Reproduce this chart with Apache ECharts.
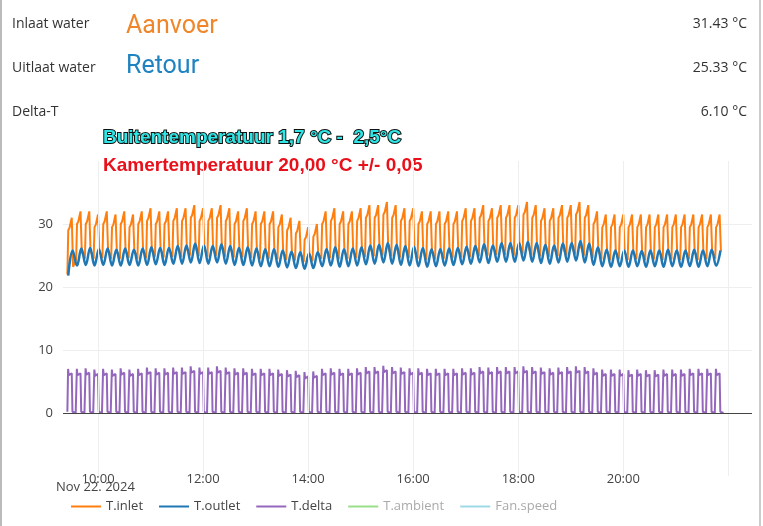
<!DOCTYPE html>
<html><head><meta charset="utf-8">
<script src="https://cdn.jsdelivr.net/npm/echarts@6/dist/echarts.min.js"></script>
<style>html,body{margin:0;padding:0;background:#fff}#c{width:763px;height:526px}</style>
</head><body><div id="c"></div>
<script>
// one value per ~10-minute heating cycle, starting 2024-11-22 09:25 (hours of day)
const cycleStartHour = 9 + 25/60;
const inletPeaks = [31,32,32,31.5,32,31.5,32,31.5,32,32.5,32,32,32.5,32.5,33,32.5,32.5,33,32.5,32,32.5,32,
 32,32,31.5,31,30.5,29.5,30,32,32.5,
 32,32,32.5,33,33,33.5,33,32.5,32.5,32,
 32,32,32,32,32.5,32.5,33,32.5,33,33,
 33,33.5,33,32.5,32.5,33,33,33.5,33,32,
 31.5,31.5,31.5,31.5,31.5,31.5,31.5,31.5,31.5,31.5,31.5,31.5,31.5,31.5];
const inletTroughs = [22,24.3,24.5,24.5,24.6,24.5,24.5,24.6,24.5,24.6,24.8,24.7,24.8,24.8,25,24.9,24.8,25,24.8,24.7,24.7,24.6,
 24.5,24.5,24.4,24.3,24.2,24,24.1,24.5,24.6,
 24.4,24.5,24.6,24.8,24.9,25,24.9,24.7,24.6,24.5,
 24.3,24.4,24.5,24.6,24.7,24.8,24.9,25,25.1,25.1,
 25,25.2,25,24.9,24.8,24.9,25,25.2,25,24.6,
 24.4,24.3,24.4,24.3,24.4,24.3,24.4,24.3,24.4,24.3,24.4,24.3,24.4,24.5];
const outletPeaks = [25.8,26.1,26.2,26,26.1,25.9,26.1,25.9,26.1,26.3,26.2,26.2,26.5,26.6,26.9,26.6,26.5,26.8,26.5,26.2,26.3,26.1,
 26,26,25.8,25.6,25.5,25.3,25.5,26,26.3,
 26,26.1,26.3,26.6,26.7,27,26.7,26.5,26.4,26.2,
 26,26,26.1,26.2,26.4,26.5,26.8,26.6,27,27,
 27,27.2,27,26.7,26.6,26.9,27,27.3,26.9,26.3,
 25.9,25.8,25.8,25.8,25.7,25.8,25.8,25.9,25.8,25.8,25.9,25.8,25.9,25.8];
const outletTroughs = [21.8,23.4,23.5,23.4,23.5,23.4,23.4,23.5,23.4,23.5,23.6,23.5,23.7,23.7,23.9,23.8,23.7,23.9,23.7,23.5,23.5,23.4,
 23.3,23.3,23.2,23.1,23,22.9,23,23.3,23.4,
 23.2,23.3,23.4,23.6,23.7,23.9,23.7,23.5,23.4,23.3,
 23.2,23.3,23.4,23.5,23.6,23.7,23.9,23.8,24,24,
 24,24.2,24,23.8,23.7,23.9,24,24.2,23.9,23.5,
 23.3,23.2,23.3,23.2,23.3,23.2,23.3,23.2,23.3,23.2,23.3,23.2,23.3,23.4];
const deltaPeaks = [6.3,6.3,6.4,6.2,6.3,6.2,6.4,6.2,6.3,6.5,6.4,6.4,6.5,6.5,6.7,6.5,6.5,6.7,6.5,6.4,6.4,6.3,
 6.3,6.3,6.2,6.1,6,5.8,5.9,6.3,6.4,
 6.3,6.3,6.4,6.6,6.6,6.8,6.6,6.5,6.4,6.4,
 6.3,6.3,6.3,6.3,6.4,6.4,6.6,6.5,6.6,6.6,
 6.6,6.7,6.6,6.5,6.4,6.5,6.6,6.7,6.6,6.4,
 6.2,6.2,6.2,6.1,6.2,6.1,6.1,6.2,6.2,6.2,6.3,6.3,6.3,6.3];
const yTicks = [0,10,20,30];
const xTickHours = [10,12,14,16,18,20];
const xGridHours = [10,12,14,16,18,20,22];

const M = 1/60, P = 10*M;
const inlet=[], outlet=[], delta=[];
inletPeaks.forEach((pk,i)=>{
  const s=cycleStartHour+i*P, tr=inletTroughs[i];
  inlet.push([s,tr],[s+1*M,pk-2],[s+2.5*M,pk-1.6],[s+5*M,pk],[s+6.5*M,tr+1.2]);
  outlet.push([s+1*M,outletTroughs[i]],[s+6*M,outletPeaks[i]]);
  delta.push([s,0.2],[s+0.8*M,deltaPeaks[i]+0.7],[s+1.6*M,deltaPeaks[i]-0.3],[s+5*M,deltaPeaks[i]],[s+5.8*M,0.2],[s+9.5*M,0]);
});

const chart = echarts.init(document.getElementById('c'));
const F = "'Open Sans', 'Noto Sans', sans-serif";
const pad = h => String(h).padStart(2,'0')+':00';
chart.setOption({
  animation:false,
  textStyle:{fontFamily:F},
  grid:{left:63,right:11,top:161,bottom:50},
  xAxis:{type:'value',min:9+20/60,max:22+27/60,
    axisLine:{show:false},axisTick:{show:false},
    axisLabel:{color:'#444',fontSize:13,margin:-3,customValues:xTickHours,formatter:v=>pad(Math.round(v))},
    splitLine:{show:false}},
  yAxis:{type:'value',min:-10,max:40,interval:10,
    axisLine:{show:false},axisTick:{show:false},
    axisLabel:{color:'#444',fontSize:13,margin:10,formatter:v=>yTicks.includes(v)?String(v):''},
    splitLine:{lineStyle:{color:['transparent','transparent','#eeeeee','#eeeeee','#eeeeee','transparent']}}},
  legend:{bottom:8,left:66,itemWidth:30,itemHeight:2,itemGap:16,icon:'rect',
    textStyle:{fontSize:13,color:'#444',fontFamily:F},
    data:[{name:'T.inlet'},{name:'T.outlet'},{name:'T.delta'},
      {name:'T.ambient',textStyle:{color:'#aaa'}},{name:'Fan.speed',textStyle:{color:'#aaa'}}]},
  series:[
    {name:'T.inlet',type:'line',data:inlet,showSymbol:false,color:'#ff7f0e',lineStyle:{width:2},z:3,
      markLine:{silent:true,symbol:'none',label:{show:false},lineStyle:{color:'#eeeeee',type:'solid',width:1},
        data:xGridHours.map(h=>({xAxis:h}))},z:3},
    {name:'T.outlet',type:'line',data:outlet,showSymbol:false,smooth:0.4,color:'#1f77b4',lineStyle:{width:2.5},z:4},
    {name:'T.delta',type:'line',data:delta,showSymbol:false,color:'#9467bd',lineStyle:{width:2},z:2,
      markLine:{silent:true,symbol:'none',label:{show:false},lineStyle:{color:'#444',type:'solid',width:1},data:[{yAxis:0}]}},
    {name:'T.ambient',type:'line',data:[],color:'#98df8a'},
    {name:'Fan.speed',type:'line',data:[],color:'#9edae5'}
  ],
  graphic:[
    {type:'rect',shape:{x:0,y:0,width:2,height:526},style:{fill:'#bbb'}},
    {type:'rect',shape:{x:759,y:0,width:2,height:526},style:{fill:'#ccc'}},
    {type:'text',left:12,top:17,style:{text:'Inlaat water',fontSize:14,fill:'#333',fontFamily:F}},
    {type:'text',left:12,top:61,style:{text:'Uitlaat water',fontSize:14,fill:'#333',fontFamily:F}},
    {type:'text',left:12,top:105,style:{text:'Delta-T',fontSize:14,fill:'#333',fontFamily:F}},
    {type:'text',left:126,top:14,style:{text:'Aanvoer',fontSize:25,fill:'#f0862a',fontFamily:'Roboto, sans-serif'}},
    {type:'text',left:126,top:54,style:{text:'Retour',fontSize:25,fill:'#1f83c1',fontFamily:'Roboto, sans-serif'}},
    {type:'text',right:16,top:17,style:{text:'31.43 °C',fontSize:14,fill:'#333',fontFamily:F}},
    {type:'text',right:16,top:61,style:{text:'25.33 °C',fontSize:14,fill:'#333',fontFamily:F}},
    {type:'text',right:16,top:105,style:{text:'6.10 °C',fontSize:14,fill:'#333',fontFamily:F}},
    {type:'text',left:102,top:127,style:{text:'Buitentemperatuur 1,7 °C -  2,5°C',fontSize:19,fontWeight:'bold',fill:'#2ee6e6',stroke:'#111',lineWidth:2,fontFamily:'Liberation Sans, Arial, sans-serif'}},
    {type:'text',left:103,top:156,style:{text:'Kamertemperatuur 20,00 °C +/- 0,05',fontSize:19,fontWeight:'bold',fill:'#e8101a',fontFamily:'Liberation Sans, Arial, sans-serif'}},
    {type:'text',left:56,top:481,style:{text:'Nov 22. 2024',fontSize:13,fill:'#444',fontFamily:F}}
  ]
});
</script></body></html>
